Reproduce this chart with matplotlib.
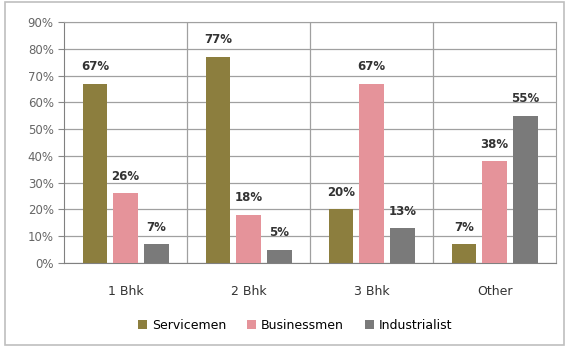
import matplotlib

matplotlib.use("Agg")
import matplotlib.pyplot as plt
import numpy as np
from matplotlib.patches import Rectangle

categories = ["1 Bhk", "2 Bhk", "3 Bhk", "Other"]
series_names = ["Servicemen", "Businessmen", "Industrialist"]
servicemen = [67, 77, 20, 7]
businessmen = [26, 18, 67, 38]
industrialist = [7, 5, 13, 55]
y_ticks = [0, 10, 20, 30, 40, 50, 60, 70, 80, 90]

COLORS = ["#8C7E3E", "#E5939A", "#7A7A7A"]

plt.rcParams["font.family"] = "DejaVu Sans"

fig = plt.figure(figsize=(5.67, 3.48), dpi=100)
fig.patch.set_facecolor("white")
fig.patches.append(Rectangle((0.008, 0.008), 0.987, 0.985, transform=fig.transFigure,
                             fill=False, edgecolor="#BFBFBF", lw=1.2))

ax = fig.add_axes([0.113, 0.244, 0.868, 0.693])
x = np.arange(len(categories))
width = 0.2
offsets = [-0.25, 0.0, 0.25]

for vals, name, color, off in zip([servicemen, businessmen, industrialist],
                                  series_names, COLORS, offsets):
    bars = ax.bar(x + off, vals, width, color=color, label=name, zorder=3)
    for b, v in zip(bars, vals):
        ax.text(b.get_x() + b.get_width() / 2, v + 4, f"{v}%", ha="center",
                va="bottom", fontsize=8.5, fontweight="bold", color="#333333")

ax.set_xlim(-0.5, len(categories) - 0.5)
ax.set_ylim(0, 90)
ax.set_yticks(y_ticks)
ax.set_yticklabels([f"{t}%" for t in y_ticks], fontsize=8.5, color="#666666")
ax.set_xticks(x)
ax.set_xticklabels(categories, fontsize=9, color="#333333")
ax.tick_params(axis="x", length=0, pad=16)
ax.tick_params(axis="y", length=4, color="#888888")

ax.yaxis.grid(True, color="#A0A0A0", lw=0.9, zorder=0)
for xb in np.arange(0.5, len(categories) - 0.5, 1.0):
    ax.axvline(xb, color="#A0A0A0", lw=0.9, zorder=0)
for side in ["top", "right"]:
    ax.spines[side].set_color("#A0A0A0")
ax.spines["left"].set_color("#808080")
ax.spines["bottom"].set_color("#808080")

ax.legend(loc="upper center", bbox_to_anchor=(0.47, -0.185), ncol=3, frameon=False,
          fontsize=9, handlelength=0.7, handleheight=0.7, columnspacing=1.7,
          handletextpad=0.4)

fig.savefig("out.png", dpi=100)
